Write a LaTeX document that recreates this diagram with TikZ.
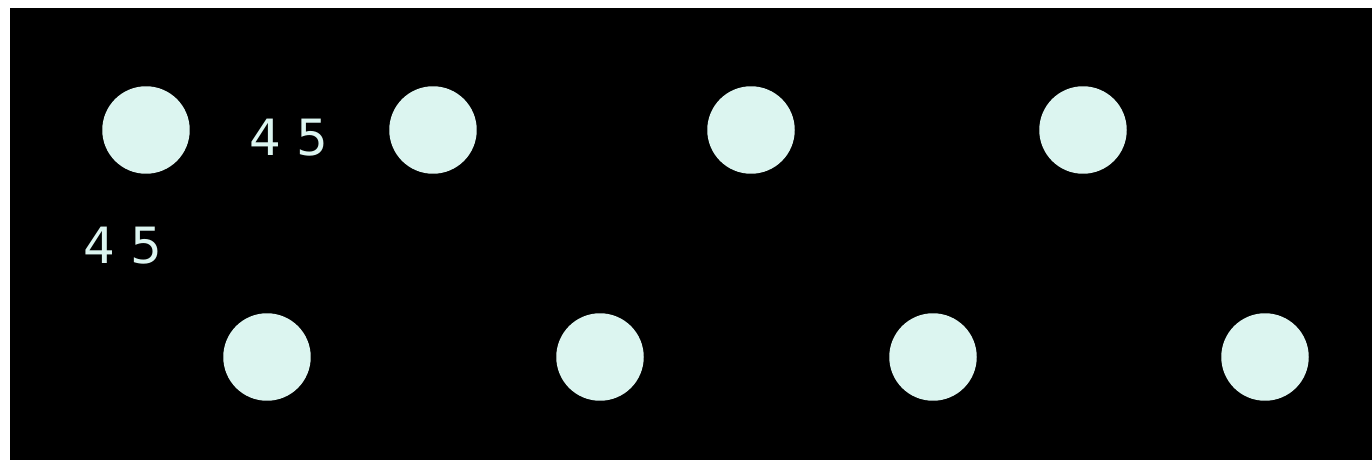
\documentclass[tikz,border=0pt]{standalone}
\usepackage{fontspec}
\setmainfont{DejaVu Sans}
\usepackage{xcolor}
\usepackage{tikz}
\usetikzlibrary{positioning}

\definecolor{mint}{HTML}{DCF5F0}

\begin{document}
\begin{tikzpicture}[x=0.02cm,y=-0.02cm,
    dot/.style={circle,fill=mint,draw=none,minimum size=1.75cm,inner sep=0pt},
    lbl/.style={text=mint,inner sep=0pt,anchor=base,font=\fontsize{28.45}{34}\selectfont}]
  \useasboundingbox (0,0) rectangle (1372,460);
  \fill[black] (9.5,8) rectangle (1372,460);
  % upper row
  \node[dot] (u1) at (146,130) {};
  \node[dot] (u2) at (433,130) {};
  \node[dot] (u3) at (751,130) {};
  \node[dot] (u4) at (1083,130) {};
  % lower row
  \node[dot] (l1) at (267,357) {};
  \node[dot] (l2) at (600,357) {};
  \node[dot] (l3) at (933,357) {};
  \node[dot] (l4) at (1265,357) {};
  % labels
  \node[lbl] (t1) at (289,155.7) {4 5};
  \node[lbl] (t2) at (123,263.3) {4 5};
\end{tikzpicture}
\end{document}
